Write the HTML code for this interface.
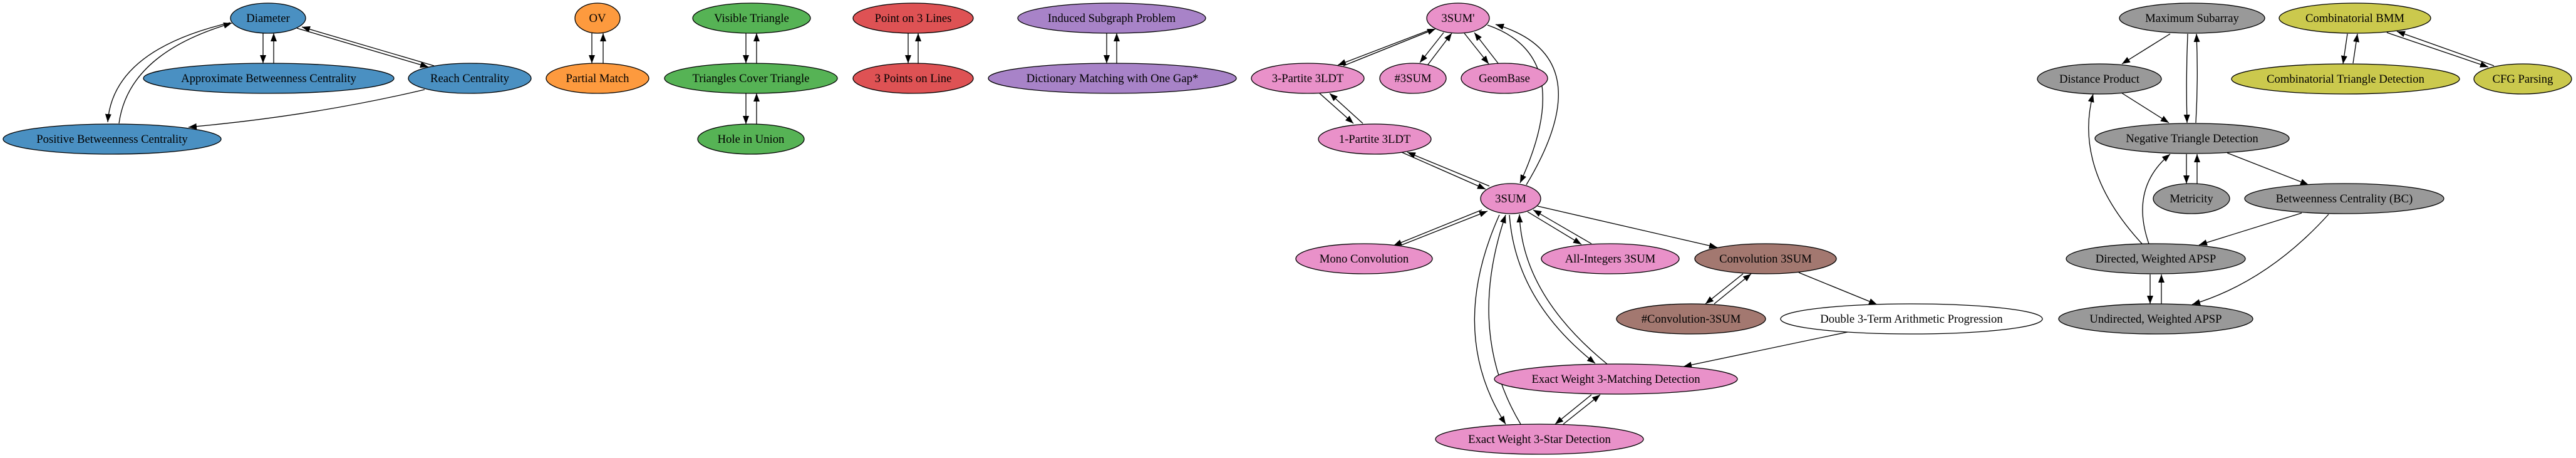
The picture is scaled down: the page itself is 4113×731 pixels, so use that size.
<!DOCTYPE html>
<html><head><meta charset="utf-8"><style>html,body{margin:0;padding:0;background:#fff}svg{display:block}</style></head>
<body>
<svg width="4113" height="731" viewBox="0 0 4113 731" xmlns="http://www.w3.org/2000/svg" font-family="'Liberation Serif', serif" font-size="18.67">
<defs>
<marker id="a" markerUnits="userSpaceOnUse" markerWidth="14" markerHeight="10" refX="13" refY="5" orient="auto"><path d="M0,0 L13,5 L0,10 Z" fill="#000"/></marker>
</defs>
<g fill="none" stroke="#000" stroke-width="1.3" marker-end="url(#a)">
<!-- blue -->
<path d="M420,53 L420,101"/>
<path d="M437,101 L437,53"/>
<path d="M474,45 L684,107"/>
<path d="M693,105 L482,43"/>
<path d="M368,36 Q180,80 172,195"/>
<path d="M190,197 Q205,85 370,37"/>
<path d="M678,143 Q500,185 301,203"/>
<!-- orange -->
<path d="M945,53 L945,101"/><path d="M963,101 L963,53"/>
<!-- green -->
<path d="M1191,53 L1191,101"/><path d="M1208,101 L1208,53"/>
<path d="M1191,149 L1191,198"/><path d="M1208,198 L1208,149"/>
<!-- red -->
<path d="M1450,53 L1450,101"/><path d="M1466,101 L1466,53"/>
<!-- purple -->
<path d="M1767,53 L1767,101"/><path d="M1783,101 L1783,53"/>
<!-- pink -->
<path d="M2285,47 L2136,104"/><path d="M2145,105 L2292,46"/>
<path d="M2305,52 L2267,100"/><path d="M2280,103 L2318,53"/>
<path d="M2338,53 L2377,102"/><path d="M2392,101 L2354,52"/>
<path d="M2107,149 L2161,197"/><path d="M2176,197 L2123,149"/>
<path d="M2238,243 L2372,302"/><path d="M2378,297 L2247,243"/>
<path d="M2375,40 Q2520,90 2427,292"/>
<path d="M2437,295 Q2560,90 2388,39"/>
<path d="M2366,335 L2225,392"/><path d="M2238,391 L2375,337"/>
<path d="M2439,338 L2525,390"/><path d="M2541,389 L2448,335"/>
<path d="M2455,329 L2742,395"/>
<path d="M2783,437 L2723,485"/><path d="M2737,485 L2796,437"/>
<path d="M2872,435 L2997,486"/>
<path d="M2950,530 L2688,585"/>
<path d="M2410,343 Q2420,480 2547,580"/>
<path d="M2566,581 Q2430,470 2426,342"/>
<path d="M2394,343 Q2310,530 2404,677"/>
<path d="M2428,677 Q2340,530 2404,343"/>
<path d="M2541,630 L2483,677"/><path d="M2496,677 L2555,630"/>
<!-- gray -->
<path d="M3465,54 L3388,102"/>
<path d="M3493,54 Q3490,125 3492,196"/>
<path d="M3506,196 Q3510,125 3507,54"/>
<path d="M3387,148 L3463,196"/>
<path d="M3491,246 L3491,293"/><path d="M3508,293 L3508,246"/>
<path d="M3556,244 L3686,295"/>
<path d="M3675,340 L3511,391"/>
<path d="M3718,342 Q3620,450 3500,486"/>
<path d="M3420,389 Q3310,270 3342,150"/>
<path d="M3431,389 Q3400,300 3465,246"/>
<path d="M3433,438 L3433,485"/><path d="M3451,485 L3451,438"/>
<!-- yellow -->
<path d="M3748,54 L3741,102"/><path d="M3757,101 L3764,54"/>
<path d="M3811,52 L3973,107"/><path d="M3982,105 L3827,50"/>
</g>
<g stroke="#000" stroke-width="1.3">
<ellipse cx="428" cy="29" rx="60" ry="24" fill="#4a90c2"/>
<ellipse cx="429" cy="125" rx="200" ry="24" fill="#4a90c2"/>
<ellipse cx="750" cy="125" rx="98" ry="24" fill="#4a90c2"/>
<ellipse cx="179" cy="222" rx="174" ry="24" fill="#4a90c2"/>
<ellipse cx="954" cy="29" rx="36" ry="24" fill="#fd9a3e"/>
<ellipse cx="954" cy="125" rx="82" ry="24" fill="#fd9a3e"/>
<ellipse cx="1200" cy="29" rx="94" ry="24" fill="#56b355"/>
<ellipse cx="1199" cy="125" rx="138" ry="24" fill="#56b355"/>
<ellipse cx="1199" cy="222" rx="85" ry="24" fill="#56b355"/>
<ellipse cx="1458" cy="29" rx="96" ry="24" fill="#de5254"/>
<ellipse cx="1458" cy="125" rx="96" ry="24" fill="#de5254"/>
<ellipse cx="1775" cy="29" rx="150" ry="24" fill="#a883c8"/>
<ellipse cx="1776" cy="125" rx="198" ry="24" fill="#a883c8"/>
<ellipse cx="2328" cy="29" rx="50" ry="24" fill="#e991c9"/>
<ellipse cx="2088" cy="125" rx="90" ry="24" fill="#e991c9"/>
<ellipse cx="2256" cy="125" rx="53" ry="24" fill="#e991c9"/>
<ellipse cx="2402" cy="125" rx="69" ry="24" fill="#e991c9"/>
<ellipse cx="2195" cy="222" rx="90" ry="24" fill="#e991c9"/>
<ellipse cx="2412" cy="317" rx="48" ry="24" fill="#e991c9"/>
<ellipse cx="2178" cy="413" rx="109" ry="24" fill="#e991c9"/>
<ellipse cx="2571" cy="413" rx="110" ry="24" fill="#e991c9"/>
<ellipse cx="2819" cy="413" rx="113" ry="24" fill="#a37870"/>
<ellipse cx="2700" cy="509" rx="119" ry="24" fill="#a37870"/>
<ellipse cx="3052" cy="509" rx="209" ry="24" fill="#fff"/>
<ellipse cx="2580" cy="605" rx="194" ry="24" fill="#e991c9"/>
<ellipse cx="2458" cy="701" rx="166" ry="24" fill="#e991c9"/>
<ellipse cx="3500" cy="29" rx="116" ry="24" fill="#999"/>
<ellipse cx="3352" cy="126" rx="99" ry="24" fill="#999"/>
<ellipse cx="3500" cy="221" rx="155" ry="24" fill="#999"/>
<ellipse cx="3499" cy="317" rx="61" ry="24" fill="#999"/>
<ellipse cx="3743" cy="317" rx="159" ry="24" fill="#999"/>
<ellipse cx="3442" cy="413" rx="143" ry="24" fill="#999"/>
<ellipse cx="3442" cy="509" rx="155" ry="24" fill="#999"/>
<ellipse cx="3760" cy="29" rx="121" ry="24" fill="#cbc94d"/>
<ellipse cx="3745" cy="126" rx="182" ry="24" fill="#cbc94d"/>
<ellipse cx="4028" cy="126" rx="78" ry="24" fill="#cbc94d"/>
</g>
<g text-anchor="middle" fill="#000">
<text x="428" y="35">Diameter</text>
<text x="429" y="131">Approximate Betweenness Centrality</text>
<text x="750" y="131">Reach Centrality</text>
<text x="179" y="228">Positive Betweenness Centrality</text>
<text x="954" y="35">OV</text>
<text x="954" y="131">Partial Match</text>
<text x="1200" y="35">Visible Triangle</text>
<text x="1199" y="131">Triangles Cover Triangle</text>
<text x="1199" y="228">Hole in Union</text>
<text x="1458" y="35">Point on 3 Lines</text>
<text x="1458" y="131">3 Points on Line</text>
<text x="1775" y="35">Induced Subgraph Problem</text>
<text x="1776" y="131">Dictionary Matching with One Gap*</text>
<text x="2328" y="35">3SUM'</text>
<text x="2088" y="131">3-Partite 3LDT</text>
<text x="2256" y="131">#3SUM</text>
<text x="2402" y="131">GeomBase</text>
<text x="2195" y="228">1-Partite 3LDT</text>
<text x="2412" y="323">3SUM</text>
<text x="2178" y="419">Mono Convolution</text>
<text x="2571" y="419">All-Integers 3SUM</text>
<text x="2819" y="419">Convolution 3SUM</text>
<text x="2700" y="515">#Convolution-3SUM</text>
<text x="3052" y="515">Double 3-Term Arithmetic Progression</text>
<text x="2580" y="611">Exact Weight 3-Matching Detection</text>
<text x="2458" y="707">Exact Weight 3-Star Detection</text>
<text x="3500" y="35">Maximum Subarray</text>
<text x="3352" y="132">Distance Product</text>
<text x="3500" y="227">Negative Triangle Detection</text>
<text x="3499" y="323">Metricity</text>
<text x="3743" y="323">Betweenness Centrality (BC)</text>
<text x="3442" y="419">Directed, Weighted APSP</text>
<text x="3442" y="515">Undirected, Weighted APSP</text>
<text x="3760" y="35">Combinatorial BMM</text>
<text x="3745" y="132">Combinatorial Triangle Detection</text>
<text x="4028" y="132">CFG Parsing</text>
</g>
</svg>
</body></html>
